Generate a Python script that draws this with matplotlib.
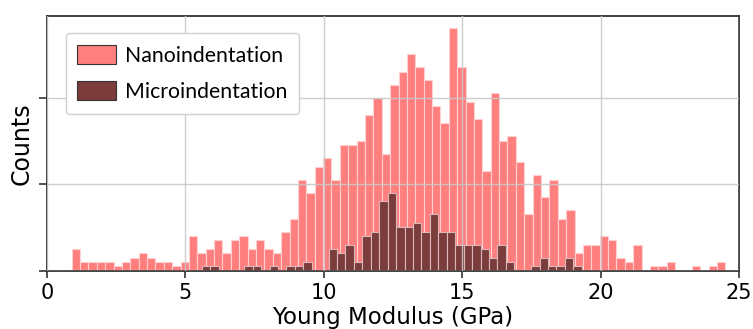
import numpy as np
import matplotlib

matplotlib.use("Agg")
import matplotlib.pyplot as plt
from matplotlib.patches import Patch

# histogram counts
nano_bin_start = 0.89
nano_bin_width = 0.3028
nano_counts = [
    5, 2, 2, 2, 2, 1, 2, 3, 4, 3, 2, 2, 1, 2,
    8, 4, 5, 7, 4, 7, 8, 5, 7, 5, 4, 9, 12,
    21, 18, 24, 26, 21, 29, 29, 30, 36, 40, 27,
    43, 46, 50, 47, 44, 38, 34, 56, 47, 39, 35, 23, 41,
    30, 31, 25, 13, 22, 17, 21, 12, 14, 4, 6, 6,
    8, 7, 3, 2, 6, 0, 1, 1, 2, 0, 0, 1, 0, 1, 2,
]

micro_bin_start = 5.60
micro_bin_width = 0.3049
micro_counts = [
    1, 1, 0, 0, 0, 1, 1, 0, 1, 0, 1, 1, 2, 0, 0,
    5, 4, 6, 2, 8, 9, 16, 18, 10, 10, 11, 9, 13, 9, 9,
    6, 6, 6, 5, 3, 6, 2, 0, 0, 1, 3, 1, 1, 3, 1,
]

x_ticks = [0, 5, 10, 15, 20, 25]
y_ticks = [0, 20, 40]

nano_color = "#ff7f7f"
micro_color = "#7b3c3c"

nano_left = nano_bin_start + nano_bin_width * np.arange(len(nano_counts))
micro_left = micro_bin_start + micro_bin_width * np.arange(len(micro_counts))

fig = plt.figure(figsize=(7.53, 3.29), dpi=100)
ax = fig.add_axes([0.0624, 0.1772, 0.9190, 0.7751])

ax.bar(nano_left, nano_counts, width=nano_bin_width, align="edge",
       color=nano_color, edgecolor="#ffd0d0", linewidth=0.8, zorder=1)
ax.bar(micro_left, micro_counts, width=micro_bin_width, align="edge",
       color=micro_color, edgecolor="#d8b8b8", linewidth=0.8, zorder=2)

ax.set_xlim(0, 25)
ax.set_ylim(0, 58.9)
ax.set_xticks(x_ticks)
ax.set_yticks(y_ticks)
ax.set_yticklabels([])
ax.tick_params(axis="x", labelsize=15, length=5, width=1.2, color="#333333")
ax.tick_params(axis="y", length=6, width=1.2, color="#333333")
ax.grid(True, color="#c8c8c8", linewidth=1.0, alpha=0.9, zorder=3)
ax.set_axisbelow(False)
for sp in ax.spines.values():
    sp.set_color("#333333")
    sp.set_linewidth(1.3)

ax.set_xlabel("Young Modulus (GPa)", fontsize=16.5, labelpad=2.5)
ax.set_ylabel("Counts", fontsize=17, labelpad=0)

handles = [
    Patch(facecolor=nano_color, edgecolor="#333333", linewidth=0.8, label="Nanoindentation"),
    Patch(facecolor=micro_color, edgecolor="#333333", linewidth=0.8, label="Microindentation"),
]
leg = ax.legend(handles=handles, loc="upper left", bbox_to_anchor=(0.027, 0.932),
                borderaxespad=0, prop={"family": ["Lato", "DejaVu Sans"], "size": 15.3},
                handlelength=1.8, handleheight=1.0, handletextpad=0.45,
                labelspacing=0.75, borderpad=0.55, fancybox=True, framealpha=1)
leg.get_frame().set_edgecolor("#d0d0d0")
leg.set_zorder(5)

fig.savefig("out.png", dpi=100)
plt.close(fig)
